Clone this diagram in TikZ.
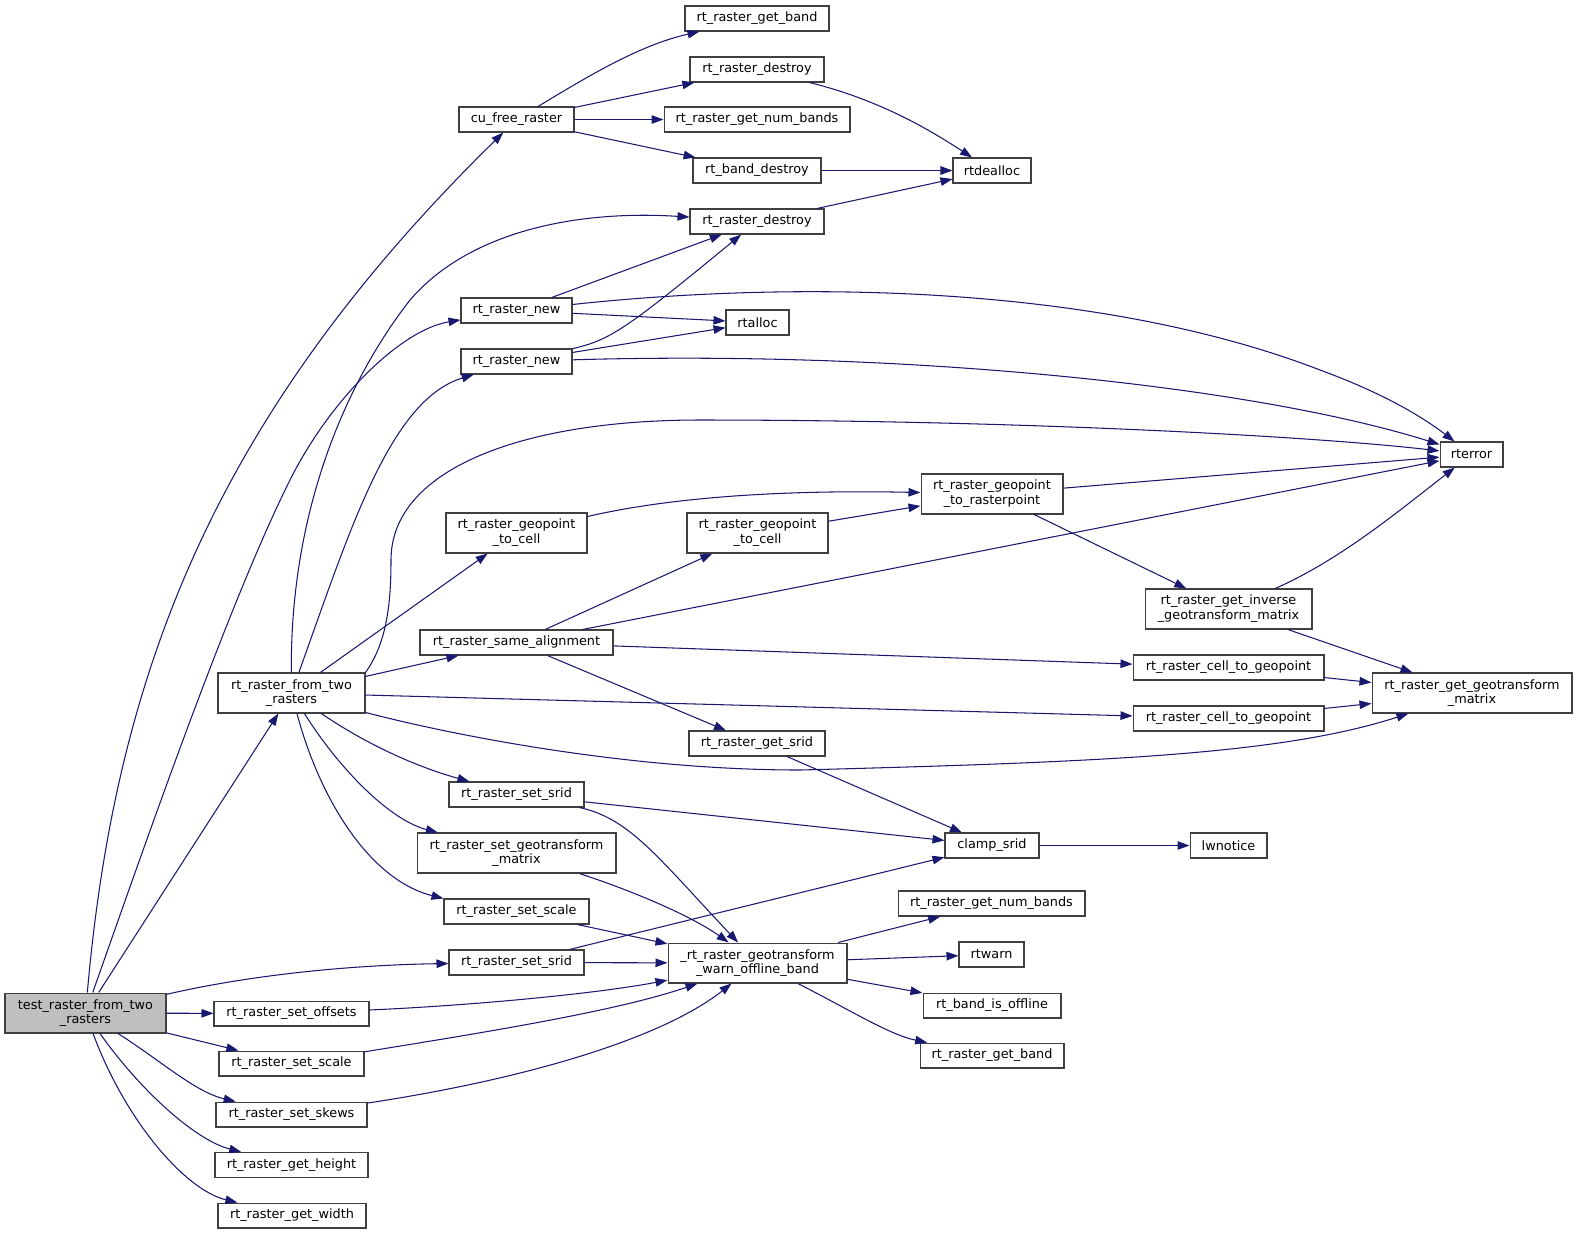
\documentclass[tikz,border=0pt]{standalone}
\usepackage{fontspec}
\setmainfont{DejaVu Sans}
\usepackage{tikz}
\usetikzlibrary{arrows.meta}

\definecolor{edgeblue}{HTML}{191970}
\definecolor{boxgray}{HTML}{BFBFBF}
\definecolor{boxline}{HTML}{404040}

\begin{document}
\begin{tikzpicture}[x=0.02cm, y=-0.02cm,
  fn/.style={draw=boxline, fill=white, line width=0.6pt, inner sep=0pt,
    minimum height=0.5cm, align=center, font=\fontsize{7.3}{8.4}\selectfont},
  fn2/.style={fn, minimum height=0.8cm},
  calls/.style={-{Triangle[length=0.24cm,width=0.17cm]}, draw=edgeblue, line width=0.6pt}]

\useasboundingbox (0,0) rectangle (1577,1235);

% first column
\node[fn2, fill=boxgray, minimum width=3.22cm] (test) at (85.5,1013) {test\_raster\_from\_two\\\_rasters};

% second column
\node[fn2, minimum width=2.94cm] (fromtwo) at (291.5,693) {rt\_raster\_from\_two\\\_rasters};
\node[fn, minimum width=3.1cm] (setoffsets) at (291.5,1013.5) {rt\_raster\_set\_offsets};
\node[fn, minimum width=2.9cm] (setscaleb) at (291.5,1063.5) {rt\_raster\_set\_scale};
\node[fn, minimum width=3.02cm] (setskews) at (291.5,1114.5) {rt\_raster\_set\_skews};
\node[fn, minimum width=3.06cm] (getheight) at (291.5,1165) {rt\_raster\_get\_height};
\node[fn, minimum width=2.96cm] (getwidth) at (292,1215.5) {rt\_raster\_get\_width};

% third column
\node[fn, minimum width=2.3cm] (cufree) at (516.5,119.5) {cu\_free\_raster};
\node[fn, minimum width=2.22cm] (rnewa) at (516.5,310.5) {rt\_raster\_new};
\node[fn, minimum width=2.22cm] (rnewb) at (516.5,361.5) {rt\_raster\_new};
\node[fn2, minimum width=2.82cm] (gcella) at (516.5,533) {rt\_raster\_geopoint\\\_to\_cell};
\node[fn, minimum width=3.86cm] (samealign) at (516.5,642.5) {rt\_raster\_same\_alignment};
\node[fn, minimum width=2.7cm] (setsrida) at (516.5,794.5) {rt\_raster\_set\_srid};
\node[fn2, minimum width=3.98cm] (setgeo) at (516.5,853) {rt\_raster\_set\_geotransform\\\_matrix};
\node[fn, minimum width=2.9cm] (setscalea) at (516.5,911.5) {rt\_raster\_set\_scale};
\node[fn, minimum width=2.7cm] (setsridb) at (516.5,962.5) {rt\_raster\_set\_srid};

% fourth column
\node[fn, minimum width=2.88cm] (getbanda) at (757,18.5) {rt\_raster\_get\_band};
\node[fn, minimum width=2.68cm] (destroya) at (757,69.5) {rt\_raster\_destroy};
\node[fn, minimum width=3.72cm] (numbandsa) at (757,119.5) {rt\_raster\_get\_num\_bands};
\node[fn, minimum width=2.56cm] (banddestroy) at (757,170.5) {rt\_band\_destroy};
\node[fn, minimum width=2.68cm] (destroyb) at (757,221.5) {rt\_raster\_destroy};
\node[fn, minimum width=1.26cm] (rtalloc) at (757.5,322.5) {rtalloc};
\node[fn2, minimum width=2.82cm] (gcellb) at (757.5,533) {rt\_raster\_geopoint\\\_to\_cell};
\node[fn, minimum width=2.72cm] (getsrid) at (757,743.5) {rt\_raster\_get\_srid};
\node[fn2, minimum width=3.58cm] (warn) at (757.5,963) {\_rt\_raster\_geotransform\\\_warn\_offline\_band};

% fifth column
\node[fn, minimum width=1.56cm] (rtdealloc) at (992,170.5) {rtdealloc};
\node[fn2, minimum width=2.84cm] (rasterpt) at (992,494) {rt\_raster\_geopoint\\\_to\_rasterpoint};
\node[fn, minimum width=1.88cm] (clampsrid) at (992,845.5) {clamp\_srid};
\node[fn, minimum width=3.74cm] (numbandsb) at (991.5,903.5) {rt\_raster\_get\_num\_bands};
\node[fn, minimum width=1.3cm] (rtwarn) at (991.5,954.5) {rtwarn};
\node[fn, minimum width=2.76cm] (bandoffline) at (992,1005.5) {rt\_band\_is\_offline};
\node[fn, minimum width=2.88cm] (getbandb) at (992,1055.5) {rt\_raster\_get\_band};

% sixth column
\node[fn2, minimum width=3.34cm] (inverse) at (1228.5,609) {rt\_raster\_get\_inverse\\\_geotransform\_matrix};
\node[fn, minimum width=3.82cm] (cellgeoa) at (1228.5,667.5) {rt\_raster\_cell\_to\_geopoint};
\node[fn, minimum width=3.82cm] (cellgeob) at (1228.5,718.5) {rt\_raster\_cell\_to\_geopoint};
\node[fn, minimum width=1.54cm] (lwnotice) at (1228.5,845.5) {lwnotice};

% last column
\node[fn, minimum width=1.26cm] (rterror) at (1471.5,454.5) {rterror};
\node[fn2, minimum width=4cm] (geomat) at (1472,693) {rt\_raster\_get\_geotransform\\\_matrix};

% test_raster_from_two_rasters
\draw[calls] (test) .. controls (115,680) and (210,420) .. (cufree);
\draw[calls] (test) .. controls (150,830) and (230,600) .. (290,480) .. controls (330,400) and (400,330) .. (rnewa);
\draw[calls] (test) -- (fromtwo);
\draw[calls] (test) .. controls (250,975) and (350,965) .. (setsridb);
\draw[calls] (test) -- (setoffsets);
\draw[calls] (test) -- (setscaleb);
\draw[calls] (test) .. controls (160,1060) and (195,1092) .. (setskews);
\draw[calls] (test) .. controls (140,1090) and (195,1140) .. (getheight);
\draw[calls] (test) .. controls (125,1120) and (185,1190) .. (getwidth);

% cu_free_raster
\draw[calls] (cufree) .. controls (590,75) and (640,45) .. (getbanda);
\draw[calls] (cufree) -- (destroya);
\draw[calls] (cufree) -- (numbandsa);
\draw[calls] (cufree) -- (banddestroy);
\draw[calls] (destroya) .. controls (880,100) and (930,130) .. (rtdealloc);
\draw[calls] (banddestroy) -- (rtdealloc);
\draw[calls] (destroyb) -- (rtdealloc);

% rt_raster_from_two_rasters
\draw[calls] (fromtwo) .. controls (290,520) and (340,390) .. (410,300) .. controls (470,230) and (580,210) .. (destroyb);
\draw[calls] (fromtwo) .. controls (350,530) and (390,400) .. (rnewb);
\draw[calls] (fromtwo.north east) .. controls (385,645) and (391,610) .. (391,560) .. controls (391,470) and (520,420) .. (700,420) .. controls (1000,420) and (1300,435) .. (rterror);
\draw[calls] (fromtwo) -- (gcella);
\draw[calls] (fromtwo) -- (samealign);
\draw[calls] (fromtwo) -- (cellgeob);
\draw[calls] (fromtwo) .. controls (440,732) and (620,770) .. (800,770) .. controls (1100,762) and (1280,755) .. (geomat);
\draw[calls] (fromtwo) .. controls (360,740) and (410,765) .. (setsrida);
\draw[calls] (fromtwo) .. controls (340,770) and (390,820) .. (setgeo);
\draw[calls] (fromtwo) .. controls (320,800) and (370,880) .. (setscalea.north west);

% rt_raster_new
\draw[calls] (rnewa) -- (destroyb);
\draw[calls] (rnewa) -- (rtalloc);
\draw[calls] (rnewa) .. controls (800,280) and (1100,285) .. (1320,370) .. controls (1380,392) and (1420,415) .. (rterror);
\draw[calls] (rnewb) .. controls (610,340) and (625,330) .. (destroyb);
\draw[calls] (rnewb) -- (rtalloc);
\draw[calls] (rnewb) .. controls (900,350) and (1250,385) .. (rterror);

% geopoint
\draw[calls] (gcella) .. controls (680,495) and (800,490) .. (rasterpt);
\draw[calls] (gcellb) -- (rasterpt);
\draw[calls] (rasterpt) -- (rterror);
\draw[calls] (rasterpt) -- (inverse);

% rt_raster_same_alignment
\draw[calls] (samealign) -- (gcellb);
\draw[calls] (samealign) -- (rterror);
\draw[calls] (samealign) -- (cellgeoa);
\draw[calls] (samealign) -- (getsrid);

% geotransform
\draw[calls] (inverse) .. controls (1340,560) and (1400,510) .. (rterror);
\draw[calls] (inverse) -- (geomat);
\draw[calls] (cellgeoa) -- (geomat);
\draw[calls] (cellgeob) -- (geomat);

% srid
\draw[calls] (getsrid) -- (clampsrid);
\draw[calls] (setsrida) -- (clampsrid);
\draw[calls] (setsrida) .. controls (630,818) and (660,860) .. (warn);
\draw[calls] (setsridb) -- (warn);
\draw[calls] (setsridb) -- (clampsrid);
\draw[calls] (clampsrid) -- (lwnotice);

% setters
\draw[calls] (setgeo) .. controls (630,890) and (690,915) .. (warn);
\draw[calls] (setscalea) -- (warn);
\draw[calls] (setoffsets) .. controls (480,1005) and (600,993) .. (warn);
\draw[calls] (setscaleb) .. controls (500,1030) and (620,1010) .. (warn);
\draw[calls] (setskews) .. controls (520,1080) and (660,1040) .. (warn);

% _rt_raster_geotransform_warn_offline_band
\draw[calls] (warn) -- (numbandsb);
\draw[calls] (warn) -- (rtwarn);
\draw[calls] (warn) -- (bandoffline);
\draw[calls] (warn) .. controls (850,1010) and (890,1035) .. (getbandb);
\end{tikzpicture}
\end{document}
